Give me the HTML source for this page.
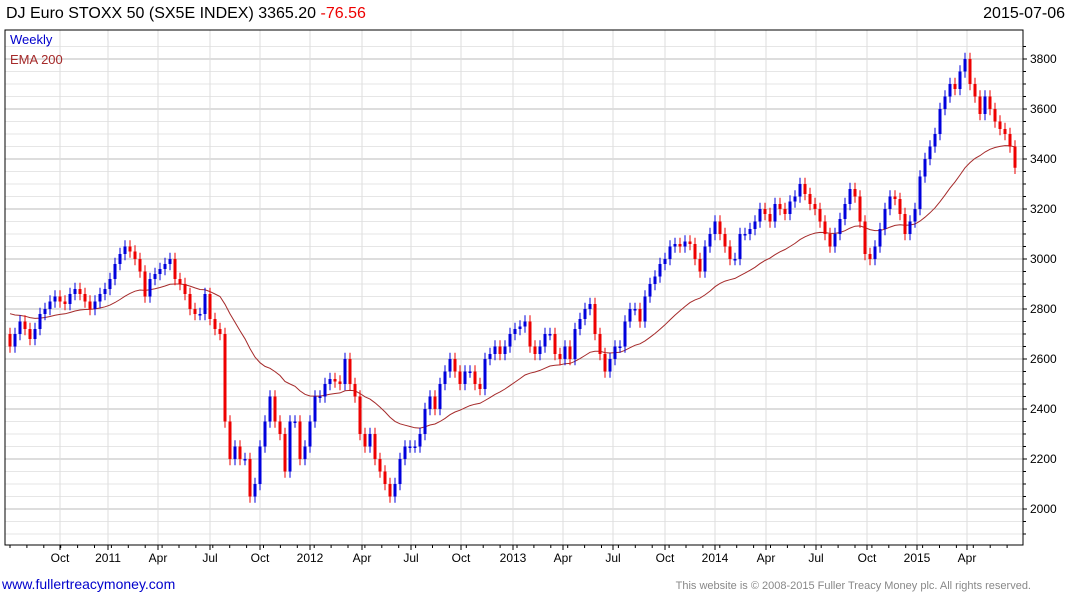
<!DOCTYPE html>
<html><head><meta charset="utf-8"><style>
body{margin:0;background:#fff;font-family:"Liberation Sans",sans-serif;}
svg text{font-family:"Liberation Sans",sans-serif;}
</style></head><body>
<svg id="c" width="1075" height="600" xmlns="http://www.w3.org/2000/svg"></svg>
<script>
const closes=[2650,2700,2750,2720,2680,2720,2780,2800,2830,2850,2830,2820,2860,2880,2860,2830,2800,2830,2860,2880,2920,2980,3020,3050,3030,3000,2950,2850,2920,2940,2960,2980,3000,2920,2900,2860,2800,2780,2780,2860,2760,2720,2700,2350,2200,2250,2200,2200,2050,2100,2250,2350,2450,2350,2300,2150,2350,2350,2200,2250,2350,2450,2450,
2500,2520,2510,2500,2600,2500,2450,2300,2250,2300,2200,2150,2100,2050,2100,2200,2250,2250,2250,2300,2400,2450,2400,2500,2550,2600,2550,2500,2550,2550,2500,2480,2600,2620,2650,2620,2650,2700,2720,2730,2750,2650,2620,2650,2700,2700,2620,2600,2650,2600,2720,2760,2800,2820,2700,2620,2550,2600,2650,2650,2750,2800,2800,2750,2850,2900,2930,2980,3000,3050,3060,3050,3070,3060,3000,2950,3050,3100,3150,3100,3050,3000,3000,3100,3100,3120,3150,3200,3180,3150,3220,3200,3180,3230,3250,3300,3260,3220,3200,3150,3100,3050,3100,3160,3220,3280,3250,3150,3020,3000,3050,3120,3200,3250,3240,3180,3100,3150,3200,3330,3400,3450,3500,3600,3650,3700,3680,3750,3800,3700,3650,3580,3650,3600,3550,3520,3500,3450,3365];
const tickValues=[2000,2200,2400,2600,2800,3000,3200,3400,3600,3800];
const monthLabels=["Oct","2011","Apr","Jul","Oct","2012","Apr","Jul","Oct","2013","Apr","Jul","Oct","2014","Apr","Jul","Oct","2015","Apr"];
const monthPos=[60,108,158,210,260,310,362,411,461,513,563,613,665,715,766,816,867,917,967];
const NS="http://www.w3.org/2000/svg",svg=document.getElementById('c');
const X0=10,X1=1015,yv=v=>509-(v-2000)*0.25;
const xi=i=>X0+i*(X1-X0)/(closes.length-1);
function el(t,a,p){const e=document.createElementNS(NS,t);for(const k in a)e.setAttribute(k,a[k]);(p||svg).appendChild(e);return e;}
for(let v=1900;v<=3850;v+=50){const l=el('line',{x1:5,x2:1023,y1:yv(v),y2:yv(v),stroke:v%200==0?'#bbb':'#e6e6e6','stroke-width':1});

}
monthPos.forEach((p,i)=>{const l=el('line',{x1:p,x2:p,y1:30,y2:545,stroke:'#ddd'});


const t=el('text',{x:p,y:562,'font-size':12,'text-anchor':'middle',fill:'#000'});t.textContent=monthLabels[i];


el('line',{x1:p,x2:p,y1:545,y2:550,stroke:'#000'});});
for(let k=0;k<60;k++){const p=10+k*16.9;if(p<1023)el('line',{x1:p,x2:p,y1:545,y2:548,stroke:'#000'});}
el('rect',{x:5,y:30,width:1018,height:515,fill:'none',stroke:'#000','stroke-width':1});
tickValues.forEach(v=>{const t=el('text',{x:1030,y:yv(v)+4,'font-size':12,fill:'#000'});t.textContent=v;


el('line',{x1:1023,x2:1027,y1:yv(v),y2:yv(v),stroke:'#000'});});
for(let v=1900;v<=3850;v+=50)el('line',{x1:1023,x2:1026,y1:yv(v),y2:yv(v),stroke:'#000'});
let e=2790,pts=[];const a=2/32;
closes.forEach((c,i)=>{e=e+a*(c-e);pts.push(xi(i).toFixed(1)+','+yv(e).toFixed(1));});
const ema=el('polyline',{points:pts.join(' '),fill:'none',stroke:'#a52a2a','stroke-width':1});


closes.forEach((c,i)=>{const o=i?closes[i-1]:2700;const up=c>=o,col=up?'#0000dd':'#ee0000';
const hi=Math.max(o,c)+25,lo=Math.min(o,c)-25,x=xi(i);
const g=el('g',{});


el('line',{x1:x,x2:x,y1:yv(hi),y2:yv(lo),stroke:col,'stroke-width':1},g);
el('rect',{x:x-1.5,y:yv(Math.max(o,c)),width:3,height:Math.max(1.5,Math.abs(yv(o)-yv(c))),fill:col},g);});
</script>
<div style="position:absolute;left:6px;top:5px;font-size:16px;">DJ Euro STOXX 50 (SX5E INDEX) 3365.20 <span style="color:#e00">-76.56</span></div>
<div style="position:absolute;right:10px;top:5px;font-size:16px;">2015-07-06</div>
<div style="position:absolute;left:10px;top:32px;font-size:13px;color:#00c;">Weekly</div>
<div style="position:absolute;left:10px;top:52px;font-size:13px;color:#a52a2a;">EMA 200</div>
<div style="position:absolute;left:2px;top:576px;font-size:14px;color:#00c;">www.fullertreacymoney.com</div>
<div style="position:absolute;right:44px;top:580px;font-size:11px;color:#888;">This website is © 2008-2015 Fuller Treacy Money plc. All rights reserved.</div>
</body></html>
